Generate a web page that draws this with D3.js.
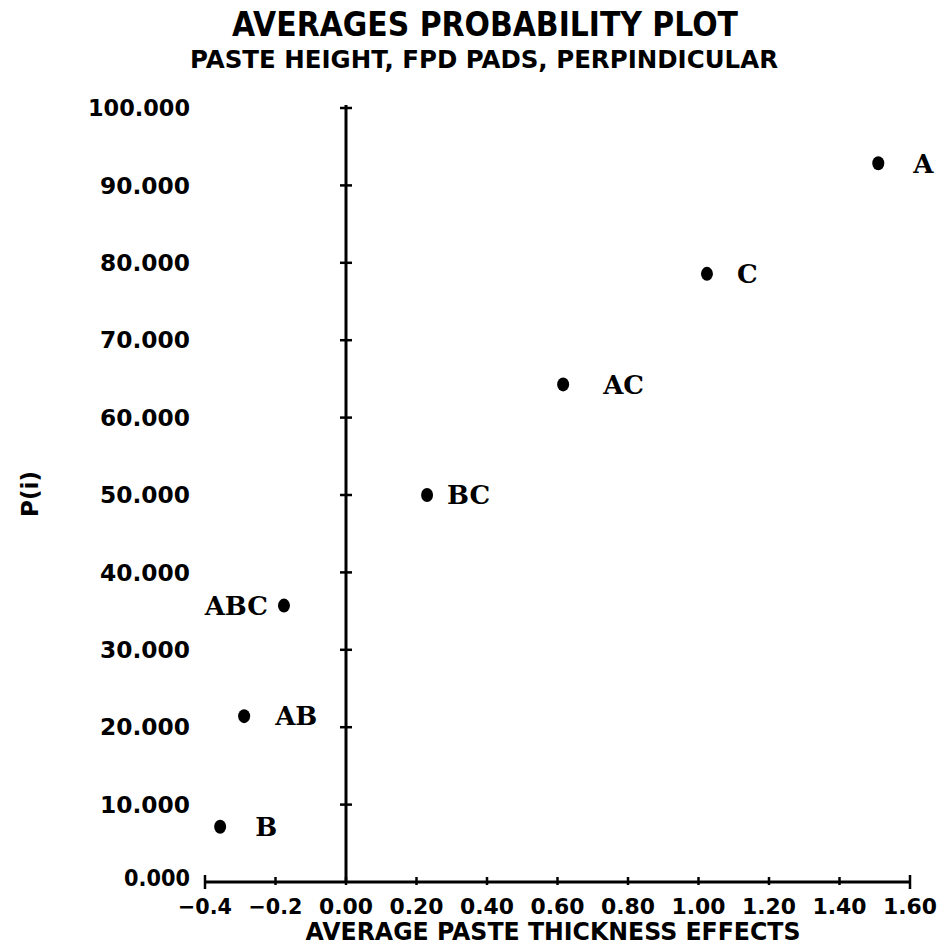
<!DOCTYPE html>
<html>
<head>
<meta charset="utf-8">
<script src="https://cdn.jsdelivr.net/npm/d3@7"></script>
<style>
  body { margin: 0; background: #fff; }
  svg { display: block; }
  .sans { font-family: "DejaVu Sans", sans-serif; font-weight: bold; fill: #000; }
  .serif { font-family: "DejaVu Serif", serif; font-weight: bold; fill: #000; }
</style>
</head>
<body>
<svg width="937" height="950"></svg>
<script>
// effect names, averaged effect (x) and probability P(i) (y)
var effects = ["B", "AB", "ABC", "BC", "AC", "C", "A"];
var effectValues = [-0.357, -0.289, -0.176, 0.23, 0.616, 1.024, 1.51];
var probabilities = [7.14, 21.43, 35.71, 50.0, 64.29, 78.57, 92.86];
var xTicks = [-0.4, -0.2, 0, 0.2, 0.4, 0.6, 0.8, 1.0, 1.2, 1.4, 1.6];
var xTickLabels = ["\u22120.4", "\u22120.2", "0.00", "0.20", "0.40", "0.60", "0.80", "1.00", "1.20", "1.40", "1.60"];
var yTicks = [0, 10, 20, 30, 40, 50, 60, 70, 80, 90, 100];

var svg = d3.select("svg");

var xScale = d3.scaleLinear().domain([-0.4, 1.6]).range([205, 910]);
var yScale = d3.scaleLinear().domain([0, 100]).range([882, 108]);

// titles
svg.append("text").attr("class", "sans")
    .attr("x", 485).attr("y", 36)
    .attr("text-anchor", "middle")
    .attr("font-size", 34)
    .attr("textLength", 506).attr("lengthAdjust", "spacingAndGlyphs")
    .text("AVERAGES PROBABILITY PLOT");
svg.append("text").attr("class", "sans")
    .attr("x", 484).attr("y", 68)
    .attr("text-anchor", "middle")
    .attr("font-size", 25)
    .attr("textLength", 588).attr("lengthAdjust", "spacingAndGlyphs")
    .text("PASTE HEIGHT, FPD PADS, PERPINDICULAR");

// x axis line + crossing ticks
var axisG = svg.append("g").attr("stroke", "#000").attr("stroke-width", 3).attr("fill", "none");
axisG.append("line")
    .attr("x1", xScale(-0.4)).attr("x2", xScale(1.6))
    .attr("y1", yScale(0)).attr("y2", yScale(0));
axisG.selectAll(".xt").data(xTicks).enter().append("line")
    .attr("x1", function (d) { return xScale(d); })
    .attr("x2", function (d) { return xScale(d); })
    .attr("y1", function (d, i) { return yScale(0) - (i === 0 || i === xTicks.length - 1 ? 7 : 5); })
    .attr("y2", function (d, i) { return yScale(0) + (i === 0 || i === xTicks.length - 1 ? 7 : 3); })
    .attr("stroke-width", 2.5);

// y axis line at x = 0
axisG.append("line")
    .attr("x1", xScale(0)).attr("x2", xScale(0))
    .attr("y1", yScale(0)).attr("y2", yScale(100) - 3);
axisG.selectAll(".yt").data(yTicks.slice(1)).enter().append("line")
    .attr("x1", xScale(0) - 6).attr("x2", xScale(0) + 6)
    .attr("y1", function (d) { return yScale(d); })
    .attr("y2", function (d) { return yScale(d); })
    .attr("stroke-width", 2.5);

// y tick labels
var fmt = d3.format(".3f");
svg.append("g").selectAll("text").data(yTicks).enter().append("text")
    .attr("class", "sans")
    .attr("x", 190)
    .attr("y", function (d) { return yScale(d) - (d === 0 ? 4 : 0); })
    .attr("dy", "0.36em")
    .attr("text-anchor", "end")
    .attr("font-size", 23)
    .attr("textLength", function (d) {
        var n = fmt(d).length;
        return n === 5 ? 66 : (n === 6 ? 90 : 102);
    })
    .attr("lengthAdjust", "spacingAndGlyphs")
    .text(function (d) { return fmt(d); });

// x tick labels
svg.append("g").selectAll("text").data(xTicks).enter().append("text")
    .attr("class", "sans")
    .attr("x", function (d) { return xScale(d); })
    .attr("y", 914)
    .attr("text-anchor", "middle")
    .attr("font-size", 21)
    .attr("textLength", 54).attr("lengthAdjust", "spacingAndGlyphs")
    .text(function (d, i) { return xTickLabels[i]; });

// axis titles
svg.append("text").attr("class", "sans")
    .attr("x", 553).attr("y", 940)
    .attr("text-anchor", "middle")
    .attr("font-size", 25)
    .attr("textLength", 495).attr("lengthAdjust", "spacingAndGlyphs")
    .text("AVERAGE PASTE THICKNESS EFFECTS");
svg.append("text").attr("class", "sans")
    .attr("transform", "translate(38,494) rotate(-90)")
    .attr("text-anchor", "middle")
    .attr("font-size", 23)
    .text("P(i)");

// points
var pts = effects.map(function (e, i) { return { name: e, x: effectValues[i], y: probabilities[i] }; });
var labelDx = { A: 35, C: 30, AC: 40, BC: 20, ABC: -16, AB: 31, B: 35 };

svg.append("g").selectAll("ellipse").data(pts).enter().append("ellipse")
    .attr("cx", function (d) { return xScale(d.x); })
    .attr("cy", function (d) { return yScale(d.y); })
    .attr("rx", 6).attr("ry", 7)
    .attr("fill", "#000");

svg.append("g").selectAll("text").data(pts).enter().append("text")
    .attr("class", "serif")
    .attr("x", function (d) { return xScale(d.x) + labelDx[d.name]; })
    .attr("y", function (d) { return yScale(d.y); })
    .attr("dy", "0.36em")
    .attr("text-anchor", function (d) { return labelDx[d.name] < 0 ? "end" : "start"; })
    .attr("font-size", 26)
    .text(function (d) { return d.name; });
</script>
</body>
</html>
